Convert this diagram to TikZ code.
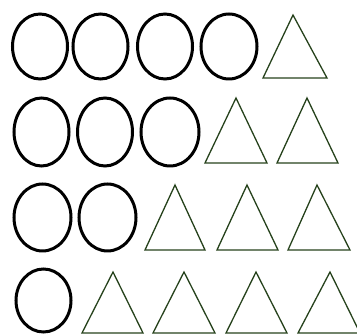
\documentclass[tikz,border=0pt]{standalone}
\definecolor{trigreen}{RGB}{38,66,28}
\begin{document}
\begin{tikzpicture}[
    x=1pt,y=-1pt,
    ring/.style={draw=black,line width=3pt},
    tri/.style={draw=trigreen,line width=1.3pt,line join=miter}
]
    \useasboundingbox (0,0) rectangle (357,336);

    % four circles, one triangle
    \draw[ring] (40,46.5) ellipse [x radius=27.5,y radius=32.5];
    \draw[ring] (100.5,46.5) ellipse [x radius=27.5,y radius=32.5];
    \draw[ring] (165,46.5) ellipse [x radius=27.5,y radius=32.5];
    \draw[ring] (229,46.5) ellipse [x radius=28,y radius=32.5];
    \draw[tri] (263,78) -- (293,15) -- (327,78) -- cycle;

    % three circles, two triangles
    \draw[ring] (41.5,132) ellipse [x radius=27.5,y radius=34];
    \draw[ring] (105,132) ellipse [x radius=27.5,y radius=34];
    \draw[ring] (170,132) ellipse [x radius=29,y radius=34];
    \draw[tri] (205,163) -- (236,98) -- (267,163) -- cycle;
    \draw[tri] (277,163) -- (307,98) -- (338,163) -- cycle;

    % two circles, three triangles
    \draw[ring] (42.5,217.5) ellipse [x radius=28.5,y radius=33.5];
    \draw[ring] (107.5,217.5) ellipse [x radius=28.5,y radius=33.5];
    \draw[tri] (145,250) -- (175,185) -- (205,250) -- cycle;
    \draw[tri] (217,250) -- (247,185) -- (278,250) -- cycle;
    \draw[tri] (288,250) -- (317,185) -- (350,250) -- cycle;

    % one circle, four triangles
    \draw[ring] (43.5,300.5) ellipse [x radius=27.5,y radius=31.5];
    \draw[tri] (82,333) -- (113,272) -- (143,333) -- cycle;
    \draw[tri] (153,333) -- (184,272) -- (215,333) -- cycle;
    \draw[tri] (226,333) -- (256,272) -- (287,333) -- cycle;
    \draw[tri] (298,333) -- (330,272) -- (360,333) -- cycle;
\end{tikzpicture}
\end{document}
